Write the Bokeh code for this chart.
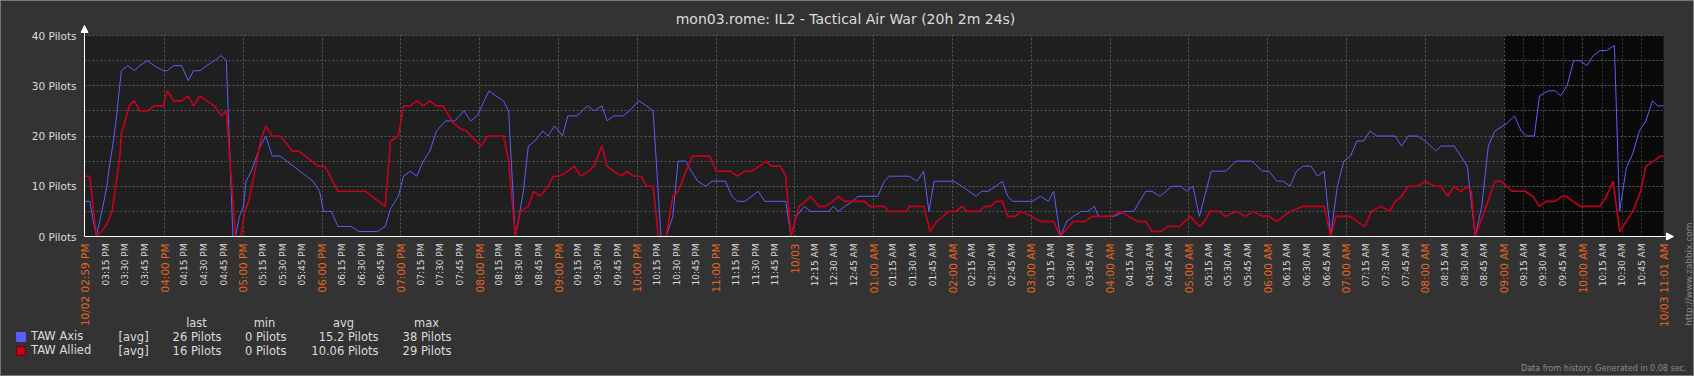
import math
from datetime import datetime, timedelta

from bokeh.plotting import figure
from bokeh.models import (Range1d, LinearAxis, FixedTicker, Grid, BoxAnnotation, Label,
                          LabelSet, ColumnDataSource, Arrow, NormalHead, Legend, LegendItem)
from bokeh.core.properties import value
from bokeh.embed import file_html
from bokeh.resources import INLINE

# ---------------------------------------------------------------- data
TITLE = "mon03.rome: IL2 - Tactical Air War (20h 2m 24s)"
START = datetime(2012, 10, 2, 14, 59)      # 10/02 02:59 PM
SPAN_MIN = 1202.4                           # 20h 2m 24s in minutes
DARK_FROM = 1081                            # 10/03 09:00 AM (minutes from start)

# minutes after 10/02 02:59 PM
axis_minutes = [0, 4, 9, 14, 17, 19, 22, 24, 28, 33, 38, 42, 48, 53, 60, 63, 68, 74, 79, 83,
                88, 93, 99, 104, 108, 113, 115, 118, 121, 123, 127, 134, 138, 143, 149, 154,
                159, 164, 169, 174, 179, 182, 188, 193, 203, 209, 223, 229, 233, 239, 243,
                248, 253, 258, 263, 268, 275, 282, 289, 294, 299, 308, 313, 319, 323, 328,
                334, 338, 343, 349, 353, 358, 364, 368, 375, 379, 383, 388, 394, 398, 403,
                410, 415, 422, 428, 433, 439, 443, 448, 452, 458, 462, 467, 473, 478, 488,
                493, 497, 503, 508, 513, 518, 534, 538, 542, 548, 553, 567, 570, 574, 579,
                585, 589, 604, 609, 613, 628, 634, 639, 643, 647, 662, 668, 679, 683, 688,
                694, 699, 703, 707, 713, 722, 728, 734, 738, 743, 748, 753, 759, 764, 769,
                772, 784, 792, 799, 808, 813, 819, 828, 835, 839, 844, 849, 854, 858, 869,
                877, 889, 897, 902, 908, 913, 918, 923, 928, 934, 939, 944, 949, 954, 959,
                964, 969, 974, 979, 984, 998, 1003, 1008, 1015, 1021, 1029, 1033, 1043, 1053,
                1059, 1064, 1069, 1074, 1083, 1089, 1094, 1098, 1104, 1108, 1115, 1120, 1124,
                1129, 1134, 1139, 1144, 1149, 1154, 1159, 1165, 1169, 1174, 1179, 1184, 1189,
                1194, 1198, 1202.4]
axis_pilots = [7, 7, 0, 6, 10, 14, 19, 23, 33, 34, 33, 34, 35, 34, 33, 33, 34, 34, 31, 33,
               33, 34, 35, 36, 35, 0, 0, 4, 6, 11, 13, 18, 20, 16, 16, 15,
               14, 13, 12, 11, 9, 5, 5, 2, 2, 1, 1, 2, 5.5, 8, 12,
               13, 12, 15, 17, 21, 23, 23, 25, 23, 24, 29, 28, 27, 25, 0,
               8.6, 18, 19, 21, 20, 22, 20, 24, 24, 25, 26, 25, 26, 23, 24,
               24, 25, 27, 26, 25, 0, 0, 4, 15, 15, 13, 11, 10, 11, 11,
               8, 7, 7, 8, 9, 7, 7, 0, 4, 6, 5, 5, 6, 5, 6,
               7, 8, 8, 11, 12, 12, 11, 13, 5, 11, 11, 10, 8, 9, 9,
               10, 11, 8, 7, 7, 7, 8, 7, 9, 0, 3, 4, 5, 5, 6,
               4, 4, 5, 5, 9, 9, 8, 10, 10, 9, 10, 4, 9, 13, 13,
               15, 15, 13, 13, 11, 11, 10, 13, 14, 14, 12, 13, 0, 10, 15,
               16, 19, 19, 21, 20, 20, 18, 20, 20, 19, 17, 18, 18, 14,
               0, 6, 18, 21, 22.5, 24, 21, 20, 20, 28, 29, 29, 28,
               30, 35, 35, 34, 36, 37, 37, 38, 5, 13.5, 16.5, 21, 23,
               27, 26, 26]

allied_minutes = [0, 4, 9, 13, 17, 21, 24, 27, 28, 31, 34, 38, 42, 48, 53, 60, 63, 68, 74, 79,
                  83, 88, 93, 99, 104, 108, 115, 119, 122, 125, 129, 134, 138, 143, 149, 154,
                  158, 163, 168, 173, 178, 183, 187, 193, 214, 219, 224, 229, 233, 239, 243,
                  248, 253, 258, 263, 268, 273, 281, 286, 291, 296, 302, 307, 319, 323, 328,
                  332, 338, 342, 347, 353, 357, 362, 368, 373, 378, 384, 388, 394, 398, 403,
                  409, 413, 418, 424, 428, 433, 437, 443, 448, 452, 458, 463, 476, 481, 492,
                  497, 503, 508, 514, 519, 523, 530, 534, 538, 544, 549, 553, 559, 564, 570,
                  574, 579, 594, 598, 609, 612, 626, 628, 639, 644, 649, 654, 658, 664, 668,
                  672, 681, 686, 690, 694, 699, 703, 709, 713, 721, 728, 738, 743, 748, 753,
                  762, 767, 782, 789, 795, 802, 808, 813, 820, 825, 834, 842, 849, 853, 857,
                  864, 869, 877, 884, 890, 897, 902, 908, 913, 918, 928, 944, 949, 953, 964,
                  969, 975, 980, 987, 994, 998, 1003, 1008, 1015, 1021, 1028, 1033, 1038, 1043,
                  1048, 1053, 1056, 1059, 1066, 1074, 1079, 1087, 1097, 1103, 1108, 1113, 1120,
                  1125, 1128, 1139, 1154, 1159, 1164, 1169, 1174, 1179, 1185, 1189, 1195, 1200,
                  1202.4]
allied_pilots = [12, 12, 0, 1, 2.5, 5, 10.5, 16, 20.5, 23, 26, 27, 25, 25, 26, 26, 29, 27, 27, 28,
                 26, 28, 27, 26, 24, 25, 0, 0, 5, 7, 12, 19, 22, 20, 20, 18.5,
                 17, 17, 16, 15, 14, 14, 12, 9, 9, 8, 7, 6, 19, 20, 26,
                 26, 27, 26, 27, 26, 26, 22.5, 21.5, 21, 19.5, 18, 20, 20, 15, 0,
                 5, 6, 9, 8, 10, 12, 12, 13, 14, 12, 13, 14, 18, 14, 13,
                 12, 13, 12, 12, 10, 10, 0, 0, 8, 9, 13, 16, 16, 13, 13,
                 12, 13, 13, 14, 15, 14, 14, 12, 0, 6, 7, 8, 6, 6, 7,
                 8, 7, 7, 6, 6, 5, 5, 6, 6, 1, 3, 4, 5, 5, 6,
                 5, 5, 6, 6, 7, 7, 4, 4, 5, 4, 3, 3, 0, 1.5, 3,
                 3, 4, 4, 5, 4, 3, 3, 1, 1, 2, 2, 4, 2, 3, 5,
                 5, 4, 5, 4, 5, 4, 4, 3, 4, 5, 6, 6, 0, 4, 4,
                 3, 2, 5, 6, 5, 7, 8, 10, 10, 11, 10, 10, 8, 10,
                 9, 10, 9, 0, 5, 11, 11, 9, 9, 8, 6, 7, 7,
                 8, 8, 6, 6, 8, 11, 1, 3, 5, 9, 14, 15, 16,
                 16]

# x tick marks every 15 minutes (15:15 .. 10:45); hourly ones are highlighted
quarter_ticks = [1 + 15 * k for k in range(1, 80)]
minute_ticks = [t for t in quarter_ticks if (t - 1) % 60 != 0]
hour_ticks = [t for t in quarter_ticks if (t - 1) % 60 == 0]
minute_labels = [(START + timedelta(minutes=t)).strftime("%I:%M %p") for t in minute_ticks]
hour_labels = [("10/03" if (START + timedelta(minutes=t)).hour == 0
                else (START + timedelta(minutes=t)).strftime("%I:%M %p")) for t in hour_ticks]
edge_ticks = [0, SPAN_MIN]
edge_labels = ["10/02 02:59 PM", "10/03 11:01 AM"]
dark_minor_ticks = [t for t in minute_ticks if t > DARK_FROM]

y_ticks = [0, 10, 20, 30, 40]
y_labels = ["0 Pilots", "10 Pilots", "20 Pilots", "30 Pilots", "40 Pilots"]
y_grid_ticks = [5, 10, 15, 20, 25, 30, 35, 40]
Y_MAX = 40

series_names = ["TAW Axis", "TAW Allied"]
series_colors = ["#5e5eff", "#c8001e"]
stat_headers = ["last", "min", "avg", "max"]
axis_stats = ["26 Pilots", "0 Pilots", "15.2 Pilots", "38 Pilots"]
allied_stats = ["16 Pilots", "0 Pilots", "10.06 Pilots", "29 Pilots"]

# ---------------------------------------------------------------- layout / style
W, H = 1694, 376
PL, PR, PT, PB = 84, 1663, 35, 236          # plot area in canvas pixels
XS = (PR - PL) / SPAN_MIN                   # px per minute
YS = (PB - PT) / Y_MAX                      # px per pilot


def cx(px):   # canvas x pixel -> data x
    return (px - PL) / XS


def cy(py):   # canvas y pixel (from top) -> data y
    return (PB - py) / YS


FONT = "DejaVu Sans"
BG_OUT = "#333333"
BG_WORK = "#1f1f1f"
BG_DARK = "#0a0a0a"
GRID = "#5a5a5a"
TXT = "#dcdcdc"
ORANGE = "#e8661e"

p = figure(width=W, height=H, title=None,
           x_range=Range1d(cx(0), cx(W)), y_range=Range1d(cy(H), cy(0)),
           x_axis_type=None, y_axis_type=None, output_backend="svg", toolbar_location=None,
           min_border=0, min_border_left=0, min_border_right=0, min_border_top=0,
           min_border_bottom=0, background_fill_color=BG_OUT, border_fill_color=BG_OUT,
           outline_line_color="#777777", outline_line_width=1)

# plot-area backgrounds
p.add_layout(BoxAnnotation(left=0, right=SPAN_MIN, bottom=0, top=Y_MAX, fill_color=BG_WORK,
                           fill_alpha=1.0, line_color=None, level="underlay"))
p.add_layout(BoxAnnotation(left=DARK_FROM, right=SPAN_MIN, bottom=0, top=Y_MAX,
                           fill_color=BG_DARK, fill_alpha=1.0, line_color=None,
                           level="underlay"))

HAS_CROSS = "cross_bounds" in Grid.properties()


def add_grid(dim, ticks, color, cross):
    if HAS_CROSS:
        p.add_layout(Grid(dimension=dim, ticker=FixedTicker(ticks=ticks), cross_bounds=cross,
                          grid_line_color=color, grid_line_dash="2 2"))
    else:
        n = len(ticks)
        if dim == 0:
            p.segment(x0=ticks, x1=ticks, y0=[cross[0]] * n, y1=[cross[1]] * n,
                      line_color=color, line_dash="2 2")
        else:
            p.segment(x0=[cross[0]] * n, x1=[cross[1]] * n, y0=ticks, y1=ticks,
                      line_color=color, line_dash="2 2")


add_grid(0, dark_minor_ticks, "#3a3a3a", (0, Y_MAX))
add_grid(0, hour_ticks, GRID, (0, Y_MAX))
add_grid(1, y_grid_ticks, GRID, (0, SPAN_MIN))

# axes (drawn at the data origin)
common = dict(major_tick_out=0, major_tick_in=0, minor_tick_out=0, minor_tick_in=0,
              major_label_text_font=FONT)
xaxis = LinearAxis(fixed_location=0, bounds=(0, SPAN_MIN),
                   ticker=FixedTicker(ticks=minute_ticks),
                   major_label_overrides={t: l for t, l in zip(minute_ticks, minute_labels)},
                   major_label_orientation=math.pi / 2, major_label_standoff=7,
                   axis_line_color="white", axis_line_width=1,
                   major_label_text_color=TXT, major_label_text_font_size="9px", **common)
p.add_layout(xaxis, "below")
xaxis_hours = LinearAxis(fixed_location=0, bounds=(0, SPAN_MIN),
                         ticker=FixedTicker(ticks=edge_ticks + hour_ticks),
                         major_label_overrides={t: l for t, l in
                                                zip(edge_ticks + hour_ticks, edge_labels + hour_labels)},
                         major_label_orientation=math.pi / 2, major_label_standoff=7,
                         axis_line_color=None,
                         major_label_text_color=ORANGE, major_label_text_font_size="10.5px",
                         **common)
p.add_layout(xaxis_hours, "below")
yaxis = LinearAxis(fixed_location=0, bounds=(0, Y_MAX), ticker=FixedTicker(ticks=y_ticks),
                   major_label_overrides={t: l for t, l in zip(y_ticks, y_labels)},
                   major_label_standoff=8, axis_line_color="white", axis_line_width=1,
                   major_label_text_color=TXT, major_label_text_font_size="10.5px", **common)
p.add_layout(yaxis, "left")

# axis arrows
p.add_layout(Arrow(end=NormalHead(size=7, fill_color="white", line_color="white"),
                   x_start=0, y_start=Y_MAX, x_end=0, y_end=cy(PT - 10),
                   line_color="white", line_width=1))
p.add_layout(Arrow(end=NormalHead(size=7, fill_color="white", line_color="white"),
                   x_start=SPAN_MIN, y_start=0, x_end=cx(PR + 10), y_end=0,
                   line_color="white", line_width=1))

# series
p.line(axis_minutes, axis_pilots, line_color=series_colors[0], line_width=1)
p.line(allied_minutes, allied_pilots, line_color=series_colors[1], line_width=1.6)

# legend (square swatches; the swatch renderers hold one empty NaN point)
NAN = float("nan")
sw_axis = p.rect(x=[NAN], y=[NAN], width=1, height=1, fill_color=series_colors[0],
                 line_color=series_colors[0])
sw_allied = p.rect(x=[NAN], y=[NAN], width=1, height=1, fill_color=series_colors[1],
                   line_color="#6a0000")
legend = Legend(items=[LegendItem(label=series_names[0], renderers=[sw_axis]),
                       LegendItem(label=series_names[1], renderers=[sw_allied])],
                location=(15, 19), orientation="vertical", padding=0, margin=0,
                spacing=0, glyph_width=11, glyph_height=11, label_height=14,
                label_standoff=5, border_line_color=None, background_fill_alpha=0,
                label_text_font=FONT, label_text_font_size="11.5px", label_text_color=TXT)
p.add_layout(legend)

# legend statistics table (canvas pixel positions)
col_center_px = [196, 264, 343, 426]
col_right_px = [221, 286, 378, 451]
hdr_src = ColumnDataSource(dict(x=[cx(v) for v in col_center_px], text=stat_headers))
p.add_layout(LabelSet(x="x", y=cy(322), text="text", source=hdr_src, text_align="center",
                      text_baseline="middle", text_color=TXT, text_font=value(FONT),
                      text_font_size="11.5px"))
for row_py, stats in ((336, axis_stats), (350, allied_stats)):
    src = ColumnDataSource(dict(x=[cx(v) for v in col_right_px], text=stats))
    p.add_layout(LabelSet(x="x", y=cy(row_py), text="text", source=src, text_align="right",
                          text_baseline="middle", text_color=TXT, text_font=value(FONT),
                          text_font_size="11.5px"))
    p.add_layout(Label(x=cx(118), y=cy(row_py), text="[avg]", text_align="left",
                       text_baseline="middle", text_color=TXT, text_font=FONT,
                       text_font_size="11.5px"))

# title and footers
p.add_layout(Label(x=cx(845), y=cy(18), text=TITLE, text_align="center",
                   text_baseline="middle", text_color=TXT, text_font=FONT,
                   text_font_size="14px"))
p.add_layout(Label(x=cx(1686), y=cy(368), text="Data from history. Generated in 0.08 sec.",
                   text_align="right", text_baseline="middle", text_color="#8a8a8a",
                   text_font=FONT, text_font_size="8px"))
p.add_layout(Label(x=cx(1688), y=cy(222), text="http://www.zabbix.com", angle=math.pi / 2,
                   text_align="right", text_baseline="middle", text_color="#8a8a8a",
                   text_font=FONT, text_font_size="9px"))

open("out.html", "w").write(file_html(p, INLINE))
